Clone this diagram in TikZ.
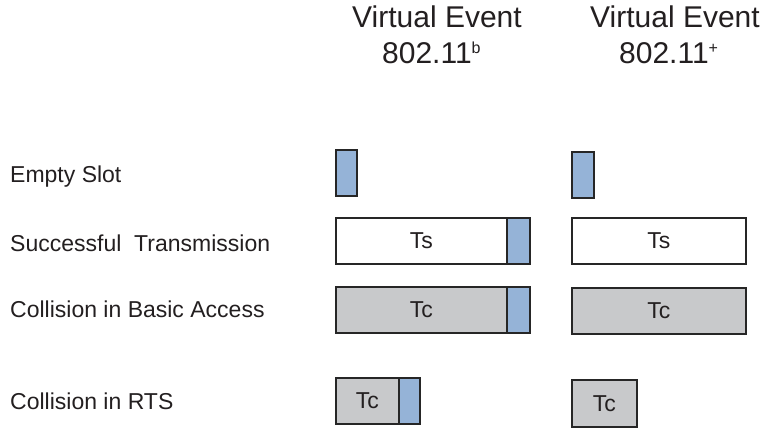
\documentclass[tikz,border=0pt]{standalone}
\usepackage{fontspec}
\setmainfont{Liberation Sans}
\definecolor{slotblue}{RGB}{149,179,215}
\definecolor{colgray}{RGB}{200,201,203}
\definecolor{ink}{RGB}{35,31,32}
\definecolor{edge}{RGB}{38,38,38}
\newcommand\mysupx[1]{\raisebox{10pt}{\fontsize{16}{18}\selectfont #1}}
\tikzset{
  cell/.style={draw=edge, line width=1.8pt, rectangle, inner sep=0pt, anchor=north west, text=ink,
    font=\fontsize{23}{27}\selectfont},
  bluecell/.style={cell, fill=slotblue},
  whitecell/.style={cell, fill=white},
  graycell/.style={cell, fill=colgray},
  rowlabel/.style={anchor=base west, inner sep=0pt, text=ink, font=\fontsize{23}{27}\selectfont},
  title/.style={anchor=base, inner sep=0pt, text=ink, font=\fontsize{30}{36}\selectfont},
  titlew/.style={anchor=base west, inner sep=0pt, text=ink, font=\fontsize{30}{36}\selectfont}
}
\begin{document}
\begin{tikzpicture}[x=1pt,y=-1pt]
\useasboundingbox (0,0) rectangle (763,430);
% titles
\node[title] (t1a) at (437,28) {Virtual Event};
\node[titlew] (t1b) at (382,64) {802.11\mysupx{b}};
\node[title] (t2a) at (675,28) {Virtual Event};
\node[titlew] (t2b) at (619,64) {802.11\mysupx{+}};
% row labels
\node[rowlabel] (l1) at (10,183) {Empty Slot};
\node[rowlabel] (l2) at (10,252) {Successful\ \ Transmission};
\node[rowlabel] (l3) at (10,317) {Collision in Basic Access};
\node[rowlabel] (l4) at (10,409) {Collision in RTS};
% left column
\node[bluecell, minimum width=21pt, minimum height=46pt] (es1) at (335,149) {};
\node[whitecell, minimum width=171pt, minimum height=46pt] (ts1) at (335,217) {Ts};
\node[bluecell, minimum width=23pt, minimum height=46pt] (ts1b) at (506,217) {};
\node[graycell, minimum width=171pt, minimum height=46pt] (tc1) at (335,286) {Tc};
\node[bluecell, minimum width=23pt, minimum height=46pt] (tc1b) at (506,286) {};
\node[graycell, minimum width=63pt, minimum height=46pt] (rts1) at (335,377) {Tc};
\node[bluecell, minimum width=21pt, minimum height=46pt] (rts1b) at (398,377) {};
% right column
\node[bluecell, minimum width=22pt, minimum height=46pt] (es2) at (571,151) {};
\node[whitecell, minimum width=174pt, minimum height=46pt] (ts2) at (571,217) {Ts};
\node[graycell, minimum width=174pt, minimum height=46pt] (tc2) at (571,287) {Tc};
\node[graycell, minimum width=65pt, minimum height=47pt] (rts2) at (571,379) {Tc};
\end{tikzpicture}
\end{document}
